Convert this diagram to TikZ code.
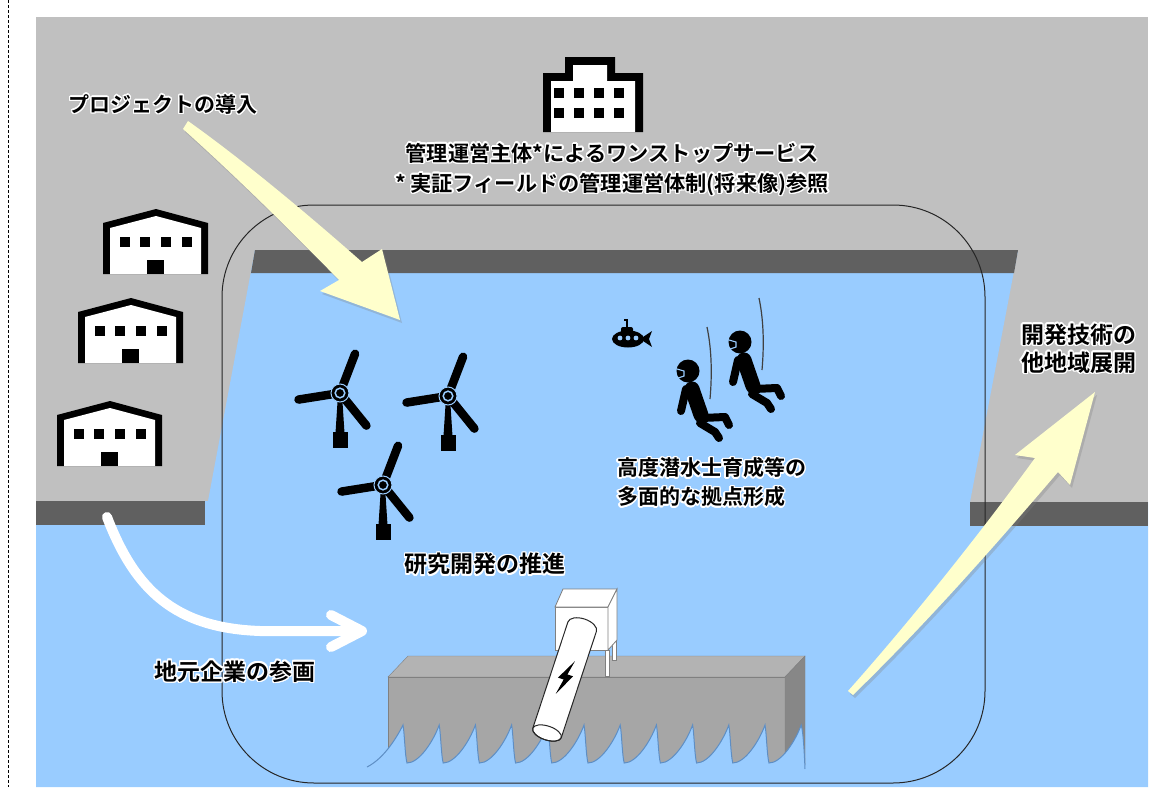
\documentclass[tikz,border=0pt]{standalone}
\usepackage{fontspec}
\setmainfont{Noto Sans CJK JP}[BoldFont={Noto Sans CJK JP Bold}]
\usepackage[copies]{contour}
\contourlength{1.4pt}
\usetikzlibrary{shadows}

\definecolor{land}{HTML}{C0C0C0}
\definecolor{quay}{HTML}{606060}
\definecolor{sea}{HTML}{99CCFF}
\definecolor{crest}{HTML}{5E8EC4}
\definecolor{cream}{HTML}{FFFFCC}
\definecolor{walltop}{HTML}{B3B3B3}
\definecolor{wallfront}{HTML}{A6A6A6}
\definecolor{wallside}{HTML}{878787}

\tikzset{
  % 工場アイコン（原点＝左上）
  factory/.pic={
    \fill (0,65) -- (0,14) -- (53,0) -- (105,14) -- (105,65) -- cycle;
    \fill[white] (7,65) -- (7,19) -- (53,7) -- (98,19) -- (98,65) -- cycle;
    \foreach \wx in {17,37,58,79} \fill (\wx,28) rectangle ++(10,10);
    \fill (44,51) rectangle (61,65);
  },
  % 風車（原点＝ハブ）
  turbine/.pic={
    \fill (-2.5,9) -- (2.5,9) -- (4.5,40) -- (-4.5,40) -- cycle;
    \fill (-7.5,39) rectangle (7.5,55);
    \foreach \a in {-69,51,171} \draw[line width=8.5pt, line cap=round] (0,0) -- (\a:42);
    \filldraw[draw=sea, line width=1pt] (0,0) circle (9);
    \draw[sea, line width=1.5pt] (0,0) circle (4.8);
  },
  % ダイバー（原点＝ヘルメット）
  diver/.pic={
    \draw[black!75, line width=1.2pt] (19,-44) .. controls (24,-20) and (24,5) .. (22,28);
    \draw[line width=15pt, line cap=round] (4,18) -- (13,44);
    \draw[line width=8pt, line cap=round] (-2,18) -- (-7,40);
    \draw[line width=8pt, line cap=round, line join=round] (14,47) -- (37,46) -- (41,54);
    \draw[line width=8pt, line cap=round, line join=round] (12,52) -- (27,61) -- (31,67);
    \fill (0,0) circle (11.5);
    \draw[sea, line width=1.1pt] (-11,-2) -- (-4,0) -- (-4,5) -- (-10,7);
  },
  label/.style={font=\bfseries\fontsize{21}{29}\selectfont, inner sep=0pt},
  bigarrow/.style={fill=cream, drop shadow={shadow xshift=2pt, shadow yshift=-3pt, opacity=0.3}}
}

\begin{document}
\begin{tikzpicture}[x=1pt, y=-1pt]
  \useasboundingbox (0,0) rectangle (1156,787);

  % ================= 背景：陸地と海 =================
  \draw[densely dashed, line width=0.6pt] (8,0) -- (8,787);
  \fill[land] (36,17) rectangle (1148,787);
  \fill[sea] (255,250) -- (1018,250) -- (970,502) -- (1148,502) -- (1148,787)
    -- (36,787) -- (36,501) -- (208,501) -- cycle;
  % 岸壁
  \fill[quay] (255,250) -- (1018,250) -- (1014,273) -- (251,273) -- cycle;
  \fill[quay] (36,501) rectangle (205,525);
  \fill[quay] (970,502) rectangle (1148,526);

  % 実証フィールドの枠
  \draw[black!85, line width=1pt, rounded corners=92] (222,205) rectangle (985,783);

  % ================= 建物 =================
  \fill (543,132) -- (543,73) -- (565,73) -- (565,57) -- (615,57) -- (615,73)
    -- (643,73) -- (643,132) -- cycle;
  \fill[white] (551,132) -- (551,81) -- (573,81) -- (573,65) -- (607,65) -- (607,81)
    -- (635,81) -- (635,132) -- cycle;
  \foreach \wx in {554,574,594,614}
    \foreach \wy in {88,108}
      \fill (\wx,\wy) rectangle ++(10,10);

  \pic at (103,209) {factory};
  \pic at (78,298) {factory};
  \pic at (57,401) {factory};

  % ================= 海の中 =================
  \pic at (340,393) {turbine};
  \pic at (448,396) {turbine};
  \pic at (383,485) {turbine};

  % 潜水艇
  \fill (628,339) ellipse (16 and 8.5);
  \fill (640,339) -- (652,331) -- (649,339) -- (652,347) -- cycle;
  \fill[rounded corners=2] (621,327) rectangle (633,334);
  \draw[line width=1.6pt] (627,328) -- (627,320) -- (624,320);
  \foreach \px in {620,628,636} \fill[sea] (\px,338) circle (2.4);

  \pic at (688,371) {diver};
  \pic at (740,342) {diver};

  % ================= 防波堤と発電装置 =================
  \filldraw[fill=walltop, draw=black!50] (388,677) -- (408,656) -- (805,656) -- (785,677) -- cycle;
  \filldraw[fill=wallfront, draw=black!50] (388,677) rectangle (785,764);
  \filldraw[fill=wallside, draw=black!50] (785,677) -- (805,656) -- (805,765) -- (785,764) -- cycle;

  % 上部の箱
  \begin{scope}[fill=white, draw=black!50, line width=0.8pt]
    \filldraw (605,650) rectangle (609,676);
    \filldraw (612,636) rectangle (616,660);
    \filldraw (555,607) rectangle (608,650);
    \filldraw (555,607) -- (563,589) -- (617,589) -- (608,607) -- cycle;
    \filldraw (608,607) -- (617,589) -- (617,640) -- (608,650) -- cycle;
  \end{scope}

  % 波
  \filldraw[fill=sea, draw=crest, line width=1pt]
    (367,767) .. controls (385,758) and (398,735) .. (403,725)
    \foreach \k [evaluate=\k as \p using 403+36.2*\k] in {0,...,10} {
      .. controls (\p+1.5,733) and (\p+2,756) .. (\p+4,763)
      .. controls (\p+16,763) and (\p+30,742) .. (\p+36.2,725)
    }
    .. controls (803.5,733) and (804.5,758) .. (805,769);

  % 導水管
  \begin{scope}[shift={(547,733)}, rotate=-18.3]
    \filldraw[fill=white, draw=black!85, line width=1pt]
      (-15,0) -- (-15,-112) arc[start angle=180, end angle=360, x radius=15, y radius=8]
      -- (15,0) arc[start angle=0, end angle=180, x radius=15, y radius=7] -- cycle;
    \draw[black!85, line width=1pt] (0,0) ellipse (15 and 7);
    \fill (4,-77) -- (-7,-56) -- (-1,-56) -- (-4,-40) -- (7,-62) -- (1,-62) -- cycle;
  \end{scope}

  % ================= 矢印 =================
  \fill[bigarrow] (188,121) .. controls (250,165) and (320,225) .. (362,262)
    -- (382,249) -- (400,320) -- (320,291) -- (339,280)
    .. controls (300,240) and (240,180) .. (183,129) -- cycle;
  \fill[bigarrow] (848,691) .. controls (920,610) and (990,520) .. (1035,458)
    -- (1015,455) -- (1095,392) -- (1070,485) -- (1058,472)
    .. controls (1000,540) and (930,620) .. (853,695) -- cycle;
  \draw[white, line width=10pt, line cap=round]
    (107,517) .. controls (135,590) and (175,628) .. (260,631) -- (356,631);
  \draw[white, line width=10pt, line cap=round, line join=round]
    (331,615) -- (362,631) -- (331,647);

  % ================= ラベル =================
  \node[label] (proj) at (163,105) {\contour{white}{プロジェクトの導入}};
  \node[label, align=center, font=\bfseries\fontsize{21.2}{30}\selectfont] (mgmt) at (612,170)
    {\contour{white}{管理運営主体*によるワンストップサービス}\\
     \contour{white}{* 実証フィールドの管理運営体制(将来像)参照}};
  \node[label, font=\bfseries\fontsize{23}{29}\selectfont] (kenkyu) at (485,565)
    {\contour{white}{研究開発の推進}};
  \node[label, anchor=west, align=left] (kyoten) at (617,483)
    {\contour{white}{高度潜水士育成等の}\\ \contour{white}{多面的な拠点形成}};
  \node[label, anchor=west, align=left, font=\bfseries\fontsize{23}{28}\selectfont] (tenkai) at (1021,349)
    {\contour{white}{開発技術の}\\ \contour{white}{他地域展開}};
  \node[label, font=\bfseries\fontsize{23}{29}\selectfont] (sankaku) at (235,672)
    {\contour{white}{地元企業の参画}};
\end{tikzpicture}
\end{document}
